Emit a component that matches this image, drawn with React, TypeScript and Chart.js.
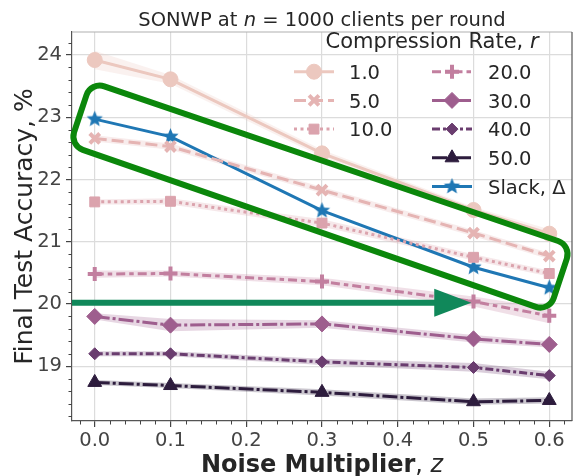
import React, { useEffect, useRef } from 'react';
import { Chart, registerables } from 'chart.js';
import { drawPoint } from 'chart.js/helpers';

Chart.register(...registerables);

// ---------------- data ----------------
const NOISE = [0.0, 0.1, 0.3, 0.5, 0.6];
const X_TICKS = [0.0, 0.1, 0.2, 0.3, 0.4, 0.5, 0.6];
const Y_TICKS = [19, 20, 21, 22, 23, 24];
const X_MIN = -0.03;
const X_MAX = 0.63;
const Y_MIN = 18.12;
const Y_MAX = 24.37;

const RATE_LABELS = ['1.0', '5.0', '10.0', '20.0', '30.0', '40.0', '50.0'];
const SLACK_LABEL = 'Slack, Δ';

const ACC_R1 = [23.92, 23.61, 22.42, 21.51, 21.13];
const ACC_R5 = [22.66, 22.53, 21.83, 21.14, 20.77];
const ACC_R10 = [21.64, 21.65, 21.30, 20.75, 20.49];
const ACC_R20 = [20.48, 20.49, 20.36, 20.04, 19.81];
const ACC_R30 = [19.80, 19.66, 19.68, 19.44, 19.35];
const ACC_R40 = [19.20, 19.20, 19.07, 18.98, 18.85];
const ACC_R50 = [18.74, 18.69, 18.58, 18.43, 18.45];
const ACC_SLACK = [22.97, 22.69, 21.50, 20.59, 20.26];

// half-width of the shaded bands
const ERR_R1 = [0.15, 0.07, 0.06, 0.05, 0.07];
const ERR_R5 = [0.05, 0.05, 0.05, 0.05, 0.05];
const ERR_R10 = [0.04, 0.05, 0.06, 0.05, 0.05];
const ERR_R20 = [0.06, 0.05, 0.06, 0.08, 0.12];
const ERR_R30 = [0.05, 0.10, 0.06, 0.06, 0.05];
const ERR_R40 = [0.04, 0.04, 0.05, 0.07, 0.06];
const ERR_R50 = [0.04, 0.04, 0.05, 0.05, 0.05];
const ERR_SLACK = [0, 0, 0, 0, 0];

// annotation (in data coordinates)
const BOX_X = [-0.005, 0.629, 0.600, -0.033];
const BOX_Y = [23.57, 20.94, 19.88, 22.55];
const ARROW_X = [-0.03, 0.497];
const ARROW_Y = [20.02, 20.02];

const FONT = "'DejaVu Sans', 'Noto Sans', sans-serif";

function makeStar(color: string, outer: number): HTMLCanvasElement {
  const size = Math.ceil(outer * 2 + 2);
  const c = document.createElement('canvas');
  c.width = size;
  c.height = size;
  const g = c.getContext('2d')!;
  const cx = size / 2, cy = size / 2, inner = outer * 0.45;
  g.beginPath();
  for (let i = 0; i < 10; i++) {
    const r = i % 2 === 0 ? outer : inner;
    const a = -Math.PI / 2 + (i * Math.PI) / 5;
    const px = cx + r * Math.cos(a), py = cy + r * Math.sin(a);
    if (i === 0) g.moveTo(px, py); else g.lineTo(px, py);
  }
  g.closePath();
  g.fillStyle = color;
  g.fill();
  return c;
}

type Run = { text: string; font: string };
function drawRuns(ctx: CanvasRenderingContext2D, runs: Run[], x: number, y: number, align: 'left' | 'center') {
  let total = 0;
  const widths = runs.map(r => { ctx.font = r.font; const w = ctx.measureText(r.text).width; total += w; return w; });
  let cx = align === 'center' ? x - total / 2 : x;
  ctx.textAlign = 'left';
  runs.forEach((r, i) => { ctx.font = r.font; ctx.fillText(r.text, cx, y); cx += widths[i]; });
}

function roundedPoly(ctx: CanvasRenderingContext2D, pts: { x: number; y: number }[], r: number) {
  const n = pts.length;
  ctx.beginPath();
  ctx.moveTo((pts[n - 1].x + pts[0].x) / 2, (pts[n - 1].y + pts[0].y) / 2);
  for (let i = 0; i < n; i++) {
    const p = pts[i], q = pts[(i + 1) % n];
    ctx.arcTo(p.x, p.y, q.x, q.y, r);
  }
  ctx.closePath();
}

function hexA(hex: string, a: number) {
  const n = parseInt(hex.slice(1), 16);
  return `rgba(${(n >> 16) & 255},${(n >> 8) & 255},${n & 255},${a})`;
}

export default function App() {
  const ref = useRef<HTMLCanvasElement>(null);

  useEffect(() => {
    const canvas = ref.current!;
    const BLUE = '#1f77b4';
    const star = makeStar(BLUE, 8.5);

    const series = [
      { label: RATE_LABELS[0], values: ACC_R1, err: ERR_R1, color: '#ecc8bf', dash: [], point: 'circle', radius: 7.5, pbw: 1 },
      { label: RATE_LABELS[1], values: ACC_R5, err: ERR_R5, color: '#e5b4b3', dash: [12, 5], point: 'crossRot', radius: 7, pbw: 4 },
      { label: RATE_LABELS[2], values: ACC_R10, err: ERR_R10, color: '#dba3ad', dash: [3, 3.5], point: 'rect', radius: 7, pbw: 1 },
      { label: RATE_LABELS[3], values: ACC_R20, err: ERR_R20, color: '#c27f9f', dash: [9, 4, 4.5, 4], point: 'cross', radius: 7, pbw: 4 },
      { label: RATE_LABELS[4], values: ACC_R30, err: ERR_R30, color: '#9e5e8e', dash: [15, 3, 3, 3], point: 'rectRot', radius: 8, pbw: 1 },
      { label: RATE_LABELS[5], values: ACC_R40, err: ERR_R40, color: '#6a3d6f', dash: [8, 3, 3, 3], point: 'rectRot', radius: 6, pbw: 1 },
      { label: RATE_LABELS[6], values: ACC_R50, err: ERR_R50, color: '#2d1c3d', dash: [15, 3, 3, 3], point: 'triangle', radius: 8, pbw: 1 },
      { label: SLACK_LABEL, values: ACC_SLACK, err: ERR_SLACK, color: BLUE, dash: [], point: star as any, radius: 8, pbw: 1 },
    ];

    const bandsPlugin = {
      id: 'bands',
      beforeDatasetsDraw(chart: any) {
        const { ctx, chartArea, scales } = chart;
        ctx.save();
        ctx.beginPath();
        ctx.rect(chartArea.left, chartArea.top, chartArea.right - chartArea.left, chartArea.bottom - chartArea.top);
        ctx.clip();
        chart.data.datasets.forEach((ds: any) => {
          if (!ds.err || ds.err.every((e: number) => e === 0)) return;
          ctx.beginPath();
          ds.data.forEach((p: any, i: number) => {
            const px = scales.x.getPixelForValue(p.x), py = scales.y.getPixelForValue(p.y + ds.err[i]);
            if (i === 0) ctx.moveTo(px, py); else ctx.lineTo(px, py);
          });
          for (let i = ds.data.length - 1; i >= 0; i--) {
            const p = ds.data[i];
            ctx.lineTo(scales.x.getPixelForValue(p.x), scales.y.getPixelForValue(p.y - ds.err[i]));
          }
          ctx.closePath();
          ctx.fillStyle = hexA(ds.bandColor, 0.25);
          ctx.fill();
        });
        ctx.restore();
      },
    };

    const decorPlugin = {
      id: 'decor',
      afterDatasetsDraw(chart: any) {
        const { ctx, scales } = chart;
        const xs = scales.x, ys = scales.y;
        ctx.save();
        // green rounded box
        const pts = BOX_X.map((x, i) => ({ x: xs.getPixelForValue(x), y: ys.getPixelForValue(BOX_Y[i]) }));
        roundedPoly(ctx, pts, 14);
        ctx.strokeStyle = '#0b870b';
        ctx.lineWidth = 6;
        ctx.setLineDash([]);
        ctx.stroke();
        // arrow
        const x0 = xs.getPixelForValue(ARROW_X[0]), x1 = xs.getPixelForValue(ARROW_X[1]);
        const y0 = ys.getPixelForValue(ARROW_Y[0]);
        const headLen = 37, hw = 14;
        ctx.strokeStyle = '#10885a';
        ctx.fillStyle = '#10885a';
        ctx.lineWidth = 6;
        ctx.lineCap = 'butt';
        ctx.beginPath();
        ctx.moveTo(x0, y0);
        ctx.lineTo(x1 - headLen + 2, y0);
        ctx.stroke();
        ctx.beginPath();
        ctx.moveTo(x1 - headLen, y0 - hw);
        ctx.lineTo(x1, y0);
        ctx.lineTo(x1 - headLen, y0 + hw);
        ctx.closePath();
        ctx.fill();
        ctx.restore();
      },
      afterDraw(chart: any) {
        const { ctx, chartArea, scales } = chart;
        const xs = scales.x, ys = scales.y;
        ctx.save();
        ctx.setLineDash([]);
        // top and right spines
        ctx.lineWidth = 1.2;
        ctx.strokeStyle = '#b0b0b0';
        ctx.beginPath();
        ctx.moveTo(chartArea.left, chartArea.top);
        ctx.lineTo(chartArea.right, chartArea.top);
        ctx.stroke();
        ctx.strokeStyle = '#555';
        ctx.beginPath();
        ctx.moveTo(chartArea.right, chartArea.top);
        ctx.lineTo(chartArea.right, chartArea.bottom);
        ctx.stroke();
        // minor ticks
        ctx.strokeStyle = '#444';
        ctx.lineWidth = 1;
        ctx.beginPath();
        for (let k = -1; k <= 31; k++) {
          const v = k * 0.02;
          if (k % 5 === 0 || v < X_MIN || v > X_MAX) continue;
          const px = Math.round(xs.getPixelForValue(v)) + 0.5;
          ctx.moveTo(px, chartArea.bottom);
          ctx.lineTo(px, chartArea.bottom + 3.5);
        }
        for (let k = 90; k <= 122; k++) {
          const v = k * 0.2;
          if (k % 5 === 0 || v < Y_MIN || v > Y_MAX) continue;
          const py = Math.round(ys.getPixelForValue(v)) + 0.5;
          ctx.moveTo(chartArea.left, py);
          ctx.lineTo(chartArea.left - 3.5, py);
        }
        ctx.stroke();

        // title
        ctx.fillStyle = '#262626';
        ctx.textBaseline = 'alphabetic';
        const cx = (chartArea.left + chartArea.right) / 2;
        drawRuns(ctx, [
          { text: 'SONWP at ', font: `19.5px ${FONT}` },
          { text: 'n', font: `italic 19.5px ${FONT}` },
          { text: ' = 1000 clients per round', font: `19.5px ${FONT}` },
        ], cx, 26, 'center');
        // x label
        drawRuns(ctx, [
          { text: 'Noise Multiplier', font: `bold 24px ${FONT}` },
          { text: ', ', font: `24px ${FONT}` },
          { text: 'z', font: `italic 24px ${FONT}` },
        ], cx, 472, 'center');
        // y label
        ctx.save();
        ctx.translate(32, (chartArea.top + chartArea.bottom) / 2);
        ctx.rotate(-Math.PI / 2);
        ctx.font = `25px ${FONT}`;
        ctx.textAlign = 'center';
        ctx.fillText('Final Test Accuracy, %', 0, 0);
        ctx.restore();

        // legend
        drawRuns(ctx, [
          { text: 'Compression Rate, ', font: `21px ${FONT}` },
          { text: 'r', font: `italic 21px ${FONT}` },
        ], 432, 48, 'center');
        const rows = [71.7, 100.4, 129.1, 157.8, 186.5];
        const cols = [
          { h0: 294, h1: 334, tx: 349 },
          { h0: 432, h1: 472, tx: 488 },
        ];
        const layout = [
          [0, 0], [0, 1], [0, 2],
          [1, 0], [1, 1], [1, 2], [1, 3], [1, 4],
        ];
        chart.data.datasets.forEach((ds: any, i: number) => {
          const [c, r] = layout[i];
          const col = cols[c];
          const y = rows[r];
          ctx.save();
          ctx.strokeStyle = ds.borderColor;
          ctx.lineWidth = 3;
          ctx.setLineDash(ds.borderDash || []);
          ctx.beginPath();
          ctx.moveTo(col.h0, y);
          ctx.lineTo(col.h1, y);
          ctx.stroke();
          ctx.setLineDash([]);
          ctx.fillStyle = ds.pointBackgroundColor;
          ctx.strokeStyle = ds.pointBorderColor;
          ctx.lineWidth = ds.pointBorderWidth;
          drawPoint(ctx, { pointStyle: ds.pointStyle, radius: ds.pointRadius, rotation: 0, borderWidth: ds.pointBorderWidth } as any, (col.h0 + col.h1) / 2, y);
          ctx.restore();
          ctx.fillStyle = '#262626';
          ctx.font = `19.5px ${FONT}`;
          ctx.textAlign = 'left';
          ctx.textBaseline = 'alphabetic';
          ctx.fillText(ds.label, col.tx, y + 7.2);
        });
        ctx.restore();
      },
    };

    const tickFont = { family: FONT, size: 19.5 };

    const chart = new Chart(canvas, {
      type: 'line',
      data: {
        datasets: series.map(s => ({
          label: s.label,
          data: NOISE.map((x, i) => ({ x, y: s.values[i] })),
          err: s.err,
          bandColor: s.color,
          borderColor: s.color,
          backgroundColor: s.color,
          borderWidth: 3,
          borderDash: s.dash,
          pointStyle: s.point,
          pointRadius: s.radius,
          pointHoverRadius: s.radius,
          pointBorderWidth: s.pbw,
          pointBackgroundColor: s.color,
          pointBorderColor: s.color,
          fill: false,
          tension: 0,
          clip: false,
        })) as any,
      },
      options: {
        animation: false,
        responsive: false,
        devicePixelRatio: 1,
        layout: { autoPadding: false, padding: { top: 32, right: 1, left: 0, bottom: 0 } },
        plugins: { legend: { display: false }, title: { display: false }, tooltip: { enabled: false } },
        scales: {
          x: {
            type: 'linear',
            min: X_MIN,
            max: X_MAX,
            afterBuildTicks: (s: any) => { s.ticks = X_TICKS.map(v => ({ value: v })); },
            afterFit: (s: any) => { s.height = 55; s.paddingLeft = 0; s.paddingRight = 0; },
            ticks: { font: tickFont, color: '#444', padding: 2, maxRotation: 0, autoSkip: false, callback: (v: any) => Number(v).toFixed(1) },
            grid: { color: '#dcdcdc', lineWidth: 1.2, tickColor: '#444', tickLength: 6, drawTicks: true },
            border: { color: '#555', width: 1.2 },
          },
          y: {
            type: 'linear',
            min: Y_MIN,
            max: Y_MAX,
            afterBuildTicks: (s: any) => { s.ticks = Y_TICKS.map(v => ({ value: v })); },
            afterFit: (s: any) => { s.width = 72; s.paddingTop = 0; s.paddingBottom = 0; },
            ticks: { font: tickFont, color: '#444', padding: 4, autoSkip: false, callback: (v: any) => String(v) },
            grid: { color: '#dcdcdc', lineWidth: 1.2, tickColor: '#444', tickLength: 6, drawTicks: true },
            border: { color: '#555', width: 1.2 },
          },
        },
      },
      plugins: [bandsPlugin, decorPlugin],
    });
    return () => chart.destroy();
  }, []);

  return (
    <div style={{ position: 'fixed', left: 0, top: 0, width: 573, height: 476, background: '#fff' }}>
      <canvas ref={ref} width={573} height={476} style={{ display: 'block', width: 573, height: 476 }} />
    </div>
  );
}
